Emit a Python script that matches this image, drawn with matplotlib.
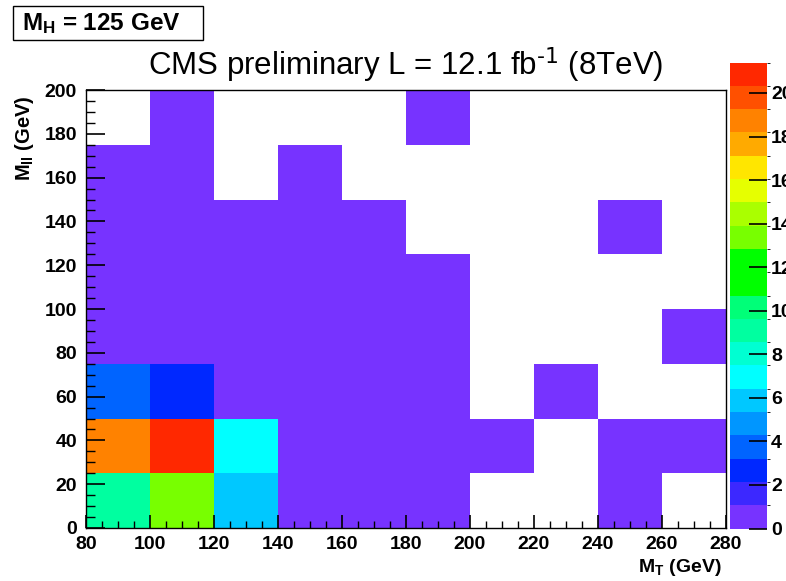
import numpy as np
import matplotlib
matplotlib.use("Agg")
import matplotlib.pyplot as plt
from matplotlib.colors import ListedColormap, BoundaryNorm
from matplotlib.ticker import MultipleLocator
from matplotlib.patches import Rectangle

plt.rcParams["font.family"] = ["Liberation Sans", "DejaVu Sans"]
plt.rcParams["mathtext.default"] = "regular"

# Binning: M_T (GeV) along x, M_ll (GeV) along y
mt_edges = [80, 100, 120, 140, 160, 180, 200, 220, 240, 260, 280]
mll_edges = [0, 25, 50, 75, 100, 125, 150, 175, 200]

# Weighted event counts per bin, rows from low M_ll to high M_ll (0 = empty bin)
counts = [
    [9.2, 13.4, 5.9, 0.8, 0.6, 0.4, 0.0, 0.0, 0.3, 0.0],   # 0-25
    [18.8, 21.4, 7.0, 0.9, 0.7, 0.5, 0.3, 0.0, 0.4, 0.2],  # 25-50
    [3.8, 2.7, 0.9, 0.6, 0.5, 0.4, 0.0, 0.2, 0.0, 0.0],    # 50-75
    [0.9, 0.8, 0.7, 0.5, 0.4, 0.3, 0.0, 0.0, 0.0, 0.2],    # 75-100
    [0.7, 0.8, 0.6, 0.4, 0.3, 0.2, 0.0, 0.0, 0.0, 0.0],    # 100-125
    [0.6, 0.5, 0.4, 0.3, 0.2, 0.0, 0.0, 0.0, 0.2, 0.0],    # 125-150
    [0.4, 0.3, 0.0, 0.2, 0.0, 0.0, 0.0, 0.0, 0.0, 0.0],    # 150-175
    [0.0, 0.2, 0.0, 0.0, 0.0, 0.1, 0.0, 0.0, 0.0, 0.0],    # 175-200
]

# 20-level rainbow palette (bottom to top)
palette = [
    "#7733ff", "#3c28ff", "#0028ff", "#0064ff", "#0096ff",
    "#00c8ff", "#00ffff", "#00ffd2", "#00ffa0", "#00ff78",
    "#00ff00", "#00ff00", "#78ff00", "#aaff00", "#e6ff00",
    "#ffe600", "#ffaa00", "#ff8200", "#ff5000", "#ff2800",
]
cbar_ticks = [0, 2, 4, 6, 8, 10, 12, 14, 16, 18, 20]

z = np.array(counts)
zmax = z.max()
levels = np.linspace(0, zmax, len(palette) + 1)
cmap = ListedColormap(palette)
cmap.set_bad("white")
norm = BoundaryNorm(levels, cmap.N)

W, H = 786, 581
fig = plt.figure(figsize=(W / 100, H / 100), dpi=100)
fig.patch.set_facecolor("white")


def fx(px):
    return px / W


def fy(py):
    return 1 - py / H


ax = fig.add_axes([fx(86), fy(528), 640 / W, 438 / H])
mesh = ax.pcolormesh(mt_edges, mll_edges, np.ma.masked_where(z <= 0, z),
                     cmap=cmap, norm=norm)
ax.set_xlim(80, 280)
ax.set_ylim(0, 200)
ax.xaxis.set_major_locator(MultipleLocator(20))
ax.xaxis.set_minor_locator(MultipleLocator(5))
ax.yaxis.set_major_locator(MultipleLocator(20))
ax.yaxis.set_minor_locator(MultipleLocator(5))
ax.tick_params(which="both", direction="in", top=False, right=False,
               labelsize=14)
ax.tick_params(axis="x", which="major", length=9.4, width=1.2, pad=6)
ax.tick_params(axis="x", which="minor", length=4.7, width=1.0)
ax.tick_params(axis="y", which="major", length=13.7, width=1.2, pad=6.5)
ax.tick_params(axis="y", which="minor", length=6.8, width=1.0)
for lab in ax.get_xticklabels() + ax.get_yticklabels():
    lab.set_fontweight("bold")
for sp in ax.spines.values():
    sp.set_linewidth(1.0)

# Axis titles at the far ends of the axes
fig.text(fx(722), fy(572), "M$_{T}$ (GeV)", ha="right", va="baseline",
         fontsize=14, fontweight="bold")
fig.text(fx(24), fy(95), "M$_{ll}$ (GeV)", ha="center", va="top",
         rotation=90, fontsize=14.5, fontweight="bold")

fig.text(fx(406), fy(75), r"CMS preliminary L = 12.1 fb$^{\text{-1}}$ (8TeV)",
         ha="center", va="baseline", fontsize=22.5)

# Mass label in a framed box
fig.patches.append(Rectangle((fx(13), fy(40)), 190 / W, 34 / H,
                             transform=fig.transFigure, facecolor="white",
                             edgecolor="black", linewidth=1.0))
fig.text(fx(22), fy(30), "M$_{H}$ = 125 GeV", ha="left", va="baseline",
         fontsize=17.5, fontweight="bold")

cax = fig.add_axes([fx(730), fy(528.5), 37 / W, 466 / H])
cb = fig.colorbar(mesh, cax=cax, ticks=cbar_ticks)
cb.outline.set_visible(False)
cax.tick_params(direction="in", length=13, width=1.2, labelsize=14, pad=3)
cb.set_ticklabels([str(t) for t in cbar_ticks])
for lab in cax.get_yticklabels():
    lab.set_fontweight("bold")

fig.savefig("out.png", dpi=100)
